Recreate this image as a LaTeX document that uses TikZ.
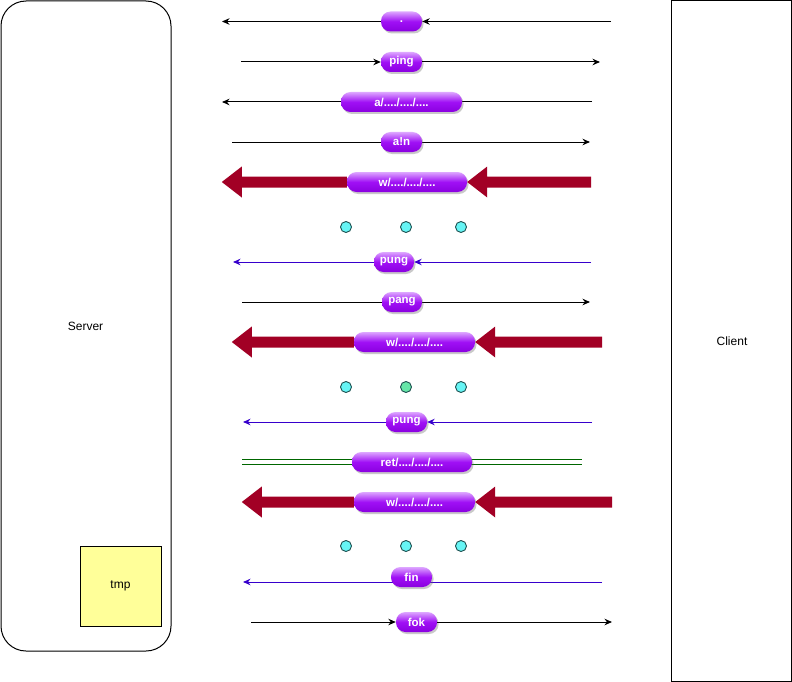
\documentclass[tikz,border=0pt]{standalone}
\usepackage{fontspec}
\setmainfont{Liberation Sans}
\usetikzlibrary{arrows.meta,shadows}
\definecolor{pillA}{HTML}{DDA6FF}
\definecolor{pillB}{HTML}{A010F5}
\definecolor{pillC}{HTML}{8A00E0}
\definecolor{bigred}{HTML}{A20025}
\definecolor{blueline}{HTML}{3700CC}
\definecolor{greenline}{HTML}{006600}
\definecolor{dotcyan}{HTML}{66F5F5}
\definecolor{dotgreen}{HTML}{66E6A8}
\definecolor{dotborder}{HTML}{1E5050}
\definecolor{tmpfill}{HTML}{FFFF99}
\tikzset{
  pill/.style={rounded corners=9.5pt, minimum height=20pt, inner sep=0pt,
    top color=pillA, bottom color=pillC, middle color=pillB, draw=none,
    text=white, font=\fontsize{11.5}{12}\selectfont\bfseries,
    drop shadow={shadow xshift=1.5pt, shadow yshift=-2pt, opacity=0.35, fill=black!60}},
  arr/.style={draw=black, line width=1pt, -{Stealth[length=7.5pt,width=6.5pt]}},
  barr/.style={draw=blueline, line width=1pt, -{Stealth[length=7.5pt,width=6.5pt]}},
  gline/.style={draw=greenline, line width=1pt},
  dotc/.style={circle, minimum size=11pt, inner sep=0pt, draw=dotborder, line width=0.9pt, fill=dotcyan},
  bigfill/.style={fill=bigred},
  lbl/.style={font=\fontsize{12}{14}\selectfont, text=black},
}
\begin{document}
\begin{tikzpicture}[x=1pt,y=-1pt]
\useasboundingbox (0,0) rectangle (792,682);
\fill[white] (0,0) rectangle (792,682);
% Server and Client
\draw[line width=1pt, rounded corners=25pt] (1,1) rectangle (171,651);
\node[lbl] (server) at (85.5,326) {Server};
\draw[line width=1pt] (671,1) rectangle (791,681);
\node[lbl] (client) at (732,341) {Client};
\node[draw, line width=1pt, fill=tmpfill, minimum width=81pt, minimum height=80pt, lbl, inner sep=0pt] (tmp) at (120.5,586) {tmp};

% Row 1
\coordinate (r1R) at (611,21.5);
\coordinate (r1L) at (222,21.5);
\node[pill, minimum width=41pt] (p1) at (401.5,21.5) {.};
\draw[arr] (r1R) -- (p1.east);
\draw[arr] (p1.west) -- (r1L);

% Row 2
\coordinate (r2L) at (241,62);
\coordinate (r2R) at (600,62);
\node[pill, minimum width=41pt] (p2) at (401.5,62) {ping};
\draw[arr] (r2L) -- (p2.west);
\draw[arr] (p2.east) -- (r2R);

% Row 3
\coordinate (r3R) at (592,102);
\coordinate (r3L) at (222,102);
\draw[arr] (r3R) -- (r3L);
\node[pill, minimum width=121pt] (p3) at (401.5,102) {a/..../..../....};

% Row 4
\coordinate (r4L) at (232,142);
\coordinate (r4R) at (590,142);
\draw[arr] (r4L) -- (r4R);
\node[pill, minimum width=41pt] (p4) at (401.5,142) {a!n};

% Row 5 big arrows
\node[pill, minimum width=120pt] (p5) at (407,182) {w/..../..../....};
\fill[bigfill] (p5.east) -- ++(20,-15.5) -- ++(0,10) -- ++(104,0) -- ++(0,11) -- ++(-104,0) -- ++(0,10) -- cycle;
\fill[bigfill] (p5.west) ++(0,-5.5) -- ++(-105,0) -- ++(0,-10) -- ++(-20,15.5) -- ++(20,15.5) -- ++(0,-10) -- ++(105,0) -- cycle;

% Row 6 dots
\node[dotc] (d61) at (346,227) {};
\node[dotc] (d62) at (406,227) {};
\node[dotc] (d63) at (461,227) {};

% Row 7
\coordinate (r7R) at (591,262);
\coordinate (r7L) at (233,262);
\node[pill, minimum width=40pt] (p7) at (394,262) {pung};
\draw[barr] (r7R) -- (p7.east);
\draw[barr] (p7.west) -- (r7L);

% Row 8
\coordinate (r8L) at (242,302);
\coordinate (r8R) at (590,302);
\draw[arr] (r8L) -- (r8R);
\node[pill, minimum width=40pt] (p8) at (402,302) {pang};

% Row 9 big arrows
\node[pill, minimum width=121pt] (p9) at (414.5,342) {w/..../..../....};
\fill[bigfill] (p9.east) -- ++(20,-15.5) -- ++(0,10) -- ++(107,0) -- ++(0,11) -- ++(-107,0) -- ++(0,10) -- cycle;
\fill[bigfill] (p9.west) ++(0,-5.5) -- ++(-102,0) -- ++(0,-10) -- ++(-20,15.5) -- ++(20,15.5) -- ++(0,-10) -- ++(102,0) -- cycle;

% Row 10 dots
\node[dotc] (d101) at (346,387) {};
\node[dotc, fill=dotgreen] (d102) at (406,387) {};
\node[dotc] (d103) at (461,387) {};

% Row 11
\coordinate (r11R) at (592,422);
\coordinate (r11L) at (243,422);
\node[pill, minimum width=41pt] (p11) at (406.5,422) {pung};
\draw[barr] (r11R) -- (p11.east);
\draw[barr] (p11.west) -- (r11L);

% Row 12 (double line)
\coordinate (r12L) at (242,459.5);
\coordinate (r12R) at (582,459.5);
\coordinate (r12L2) at (242,464);
\coordinate (r12R2) at (582,464);
\draw[gline] (r12L) -- (r12R);
\draw[gline] (r12L2) -- (r12R2);
\node[pill, minimum width=120pt] (p12) at (412,462) {ret/..../..../....};

% Row 13 big arrows
\node[pill, minimum width=121pt] (p13) at (414.5,502) {w/..../..../....};
\fill[bigfill] (p13.east) -- ++(20,-15.5) -- ++(0,10) -- ++(117,0) -- ++(0,11) -- ++(-117,0) -- ++(0,10) -- cycle;
\fill[bigfill] (p13.west) ++(0,-5.5) -- ++(-92,0) -- ++(0,-10) -- ++(-20,15.5) -- ++(20,15.5) -- ++(0,-10) -- ++(92,0) -- cycle;

% Row 14 dots
\node[dotc] (d141) at (346,546) {};
\node[dotc] (d142) at (406,546) {};
\node[dotc] (d143) at (461,546) {};

% Row 15
\coordinate (r15R) at (602,582);
\coordinate (r15L) at (243,582);
\draw[barr] (r15R) -- (r15L);
\node[pill, minimum width=41pt] (p15) at (411.5,577) {fin};

% Row 16
\coordinate (r16L) at (251,622);
\coordinate (r16R) at (612,622);
\node[pill, minimum width=41pt] (p16) at (416.5,622) {fok};
\draw[arr] (r16L) -- (p16.west);
\draw[arr] (p16.east) -- (r16R);
\end{tikzpicture}
\end{document}
